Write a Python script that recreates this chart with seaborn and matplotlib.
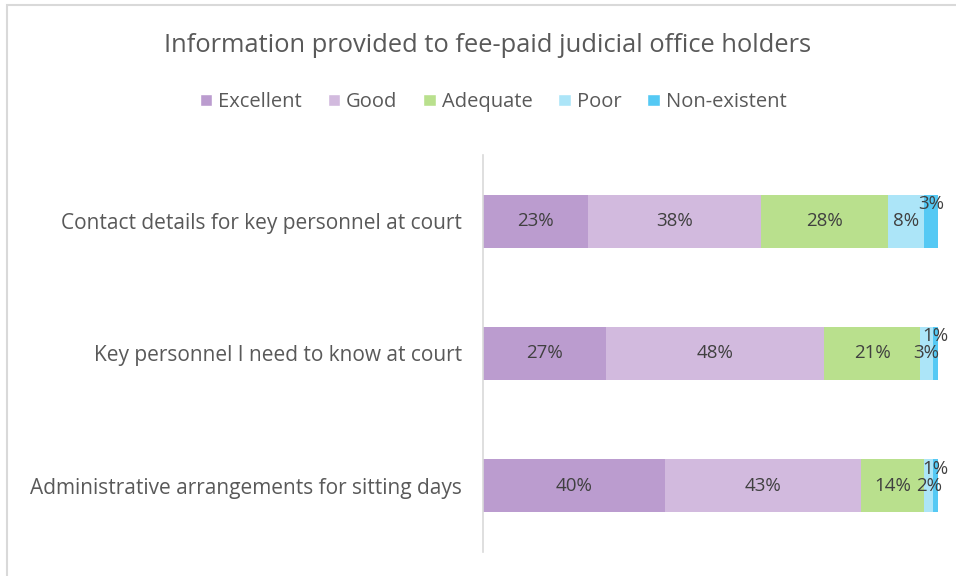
import pandas as pd
import seaborn as sns
import matplotlib.pyplot as plt
from matplotlib.patches import Patch, Rectangle

categories = [
    "Contact details for key personnel at court",
    "Key personnel I need to know at court",
    "Administrative arrangements for sitting days",
]
ratings = ["Excellent", "Good", "Adequate", "Poor", "Non-existent"]
excellent = [23, 27, 40]
good = [38, 48, 43]
adequate = [28, 21, 14]
poor = [8, 3, 2]
non_existent = [3, 1, 1]
colors = ["#BB9CCF", "#D2BADE", "#B9E08D", "#ACE5F8", "#55C9F4"]

sns.set_theme(style="white")
plt.rcParams["font.family"] = ["Open Sans", "DejaVu Sans"]
text_col = "#595959"

df = pd.DataFrame({"category": categories, "Excellent": excellent, "Good": good,
                   "Adequate": adequate, "Poor": poor, "Non-existent": non_existent})
cum = df[ratings].cumsum(axis=1)

fig = plt.figure(figsize=(9.56, 5.76), dpi=100)
ax = fig.add_axes([483 / 956, 1 - 552 / 576, (938 - 483) / 956, (552 - 155) / 576])

# stacked bars: draw cumulative totals from the right-most segment back
for r, c in reversed(list(zip(ratings, colors))):
    sns.barplot(x=cum[r], y=df["category"], color=c, orient="h", width=0.4,
                saturation=1, ax=ax, linewidth=0)

# segment labels (the last, tiny segment gets its label nudged up like Excel does)
for i in range(len(categories)):
    for r in ratings:
        v = df.loc[i, r]
        x = cum.loc[i, r] - v / 2
        dy = -0.13 if r == "Non-existent" else 0
        ax.text(x, i + dy, f"{v}%", ha="center", va="center", fontsize=13.5, color="#404040")

ax.set_xlim(0, 100)
ax.set_ylim(2.5, -0.5)
ax.set_xlabel("")
ax.set_ylabel("")
ax.set_xticks([])
ax.tick_params(axis="y", length=0, pad=15, labelsize=15, labelcolor=text_col)
for s in ["top", "right", "bottom"]:
    ax.spines[s].set_visible(False)
ax.spines["left"].set_color("#D9D9D9")
ax.spines["left"].set_linewidth(1.2)

fig.text(488 / 956, 1 - 45 / 576, "Information provided to fee-paid judicial office holders",
         ha="center", va="center", fontsize=18.4, color=text_col)
handles = [Patch(facecolor=c, label=r) for r, c in zip(ratings, colors)]
fig.legend(handles=handles, loc="center", bbox_to_anchor=(493 / 956, 1 - 102 / 576), ncol=5,
           frameon=False, fontsize=14.5, handlelength=0.6, handleheight=0.6, handletextpad=0.3,
           columnspacing=1.3, labelcolor=text_col)

# chart area border
fig.patches.append(Rectangle((7 / 956, -0.05), 1.1, 1 - 5 / 576 + 0.05, transform=fig.transFigure,
                             fill=False, edgecolor="#D9D9D9", linewidth=1.5))

fig.savefig("out.png", dpi=100)
